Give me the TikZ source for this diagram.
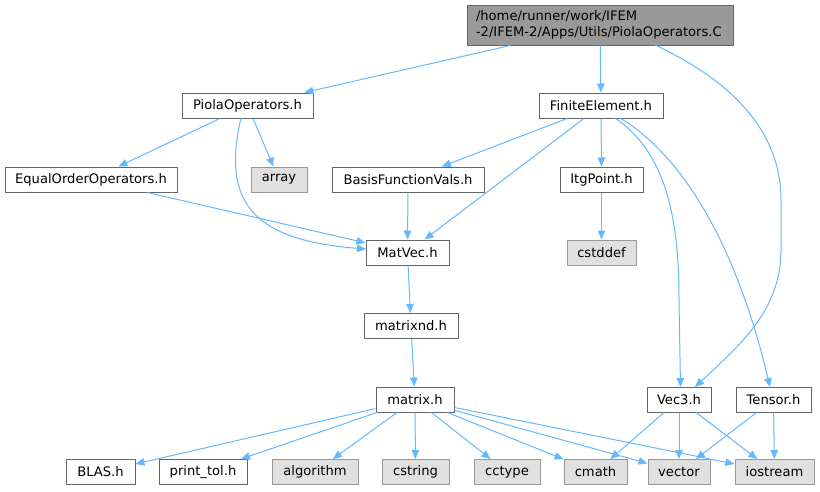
\documentclass[tikz,border=0pt]{standalone}
\usepackage{fontspec}
\setmainfont{DejaVu Sans}
\usetikzlibrary{arrows.meta}
\definecolor{edgeblue}{HTML}{63B8FF}
\definecolor{boxborder}{HTML}{666666}
\definecolor{sysfill}{HTML}{E0E0E0}
\definecolor{sysborder}{HTML}{999999}
\definecolor{rootfill}{HTML}{999999}
\begin{document}
\begin{tikzpicture}[x=1pt,y=-1pt,
  every node/.style={font=\fontsize{13.1}{16}\selectfont},
  hdr/.style={draw=boxborder, fill=white, line width=1pt, minimum height=25pt, inner sep=0pt, rectangle},
  sys/.style={draw=sysborder, fill=sysfill, line width=1pt, minimum height=25pt, inner sep=0pt, rectangle},
  rootbox/.style={draw=boxborder, fill=rootfill, line width=1pt, minimum height=40pt, minimum width=266pt, text width=248pt, align=left, inner sep=0pt},
  edge/.style={draw=edgeblue, line width=1pt, -{Triangle[length=9pt,width=7.5pt]}}
]
\useasboundingbox (0,0) rectangle (820,491);

\node[rootbox] (root) at (600,25) {/home/runner/work/IFEM\\-2/IFEM-2/Apps/Utils/PiolaOperators.C};

\node[hdr, minimum width=131pt] (piola) at (247.5,105.5) {PiolaOperators.h};
\node[hdr, minimum width=124pt] (fe) at (601,105.5) {FiniteElement.h};

\node[hdr, minimum width=172pt] (eq) at (91,179.5) {EqualOrderOperators.h};
\node[sys, minimum width=56pt] (array) at (279,179.5) {array};
\node[hdr, minimum width=152pt] (bfv) at (408,179.5) {BasisFunctionVals.h};
\node[hdr, minimum width=83pt] (itg) at (601.5,179.5) {ItgPoint.h};

\node[hdr, minimum width=83pt] (matvec) at (407.5,252.5) {MatVec.h};
\node[sys, minimum width=69pt] (cstddef) at (601.5,252.5) {cstddef};

\node[hdr, minimum width=94pt] (matrixnd) at (411,326) {matrixnd.h};

\node[hdr, minimum width=78pt] (matrix) at (415,399.5) {matrix.h};
\node[hdr, minimum width=64pt] (vec3) at (679,399.5) {Vec3.h};
\node[hdr, minimum width=75pt] (tensor) at (773.5,399.5) {Tensor.h};

\node[hdr, minimum width=69pt] (blas) at (100.5,472) {BLAS.h};
\node[hdr, minimum width=88pt] (ptol) at (203,472) {print\_tol.h};
\node[sys, minimum width=86pt] (algo) at (315,472) {algorithm};
\node[sys, minimum width=67pt] (cstring) at (415.5,472) {cstring};
\node[sys, minimum width=66pt] (cctype) at (507,472) {cctype};
\node[sys, minimum width=63pt] (cmath) at (595.5,472) {cmath};
\node[sys, minimum width=62pt] (vector) at (679,472) {vector};
\node[sys, minimum width=79pt] (iostream) at (774.5,472) {iostream};

\coordinate (rootR) at (655,45);
\coordinate (vec3in) at (695,387);
\coordinate (feA) at (615,118);
\coordinate (feB) at (620,118);
\coordinate (vec3top) at (680.5,387);
\coordinate (tensortop) at (770,387);
\coordinate (piolaB) at (241,118);
\coordinate (matvecL) at (366,249);

% root
\draw[edge] (root) -- (piola);
\draw[edge] (root) -- (fe);
\draw[edge] (rootR) .. controls (730,80) and (781,130) .. (781,200) -- (781,250) .. controls (781,310) and (740,345) .. (vec3in);

% piola
\draw[edge] (piola) -- (eq);
\draw[edge] (piola) -- (array);
\draw[edge] (piolaB) .. controls (222,200) and (250,240) .. (matvecL);

% equal order
\draw[edge] (eq) -- (matvec);

% finite element
\draw[edge] (fe) -- (bfv);
\draw[edge] (fe) -- (matvec);
\draw[edge] (fe) -- (itg);
\draw[edge] (feA) .. controls (665,152) and (679,215) .. (679,300) -- (vec3top);
\draw[edge] (feB) .. controls (690,160) and (740,260) .. (tensortop);

\draw[edge] (bfv) -- (matvec);
\draw[edge] (itg) -- (cstddef);
\draw[edge] (matvec) -- (matrixnd);
\draw[edge] (matrixnd) -- (matrix);

% matrix
\foreach \t in {blas,ptol,algo,cstring,cctype,cmath,vector,iostream}
  \draw[edge] (matrix) -- (\t);

% vec3, tensor
\draw[edge] (vec3) -- (cmath);
\draw[edge] (vec3) -- (vector);
\draw[edge] (vec3) -- (iostream);
\draw[edge] (tensor) -- (vector);
\draw[edge] (tensor) -- (iostream);
\end{tikzpicture}
\end{document}
